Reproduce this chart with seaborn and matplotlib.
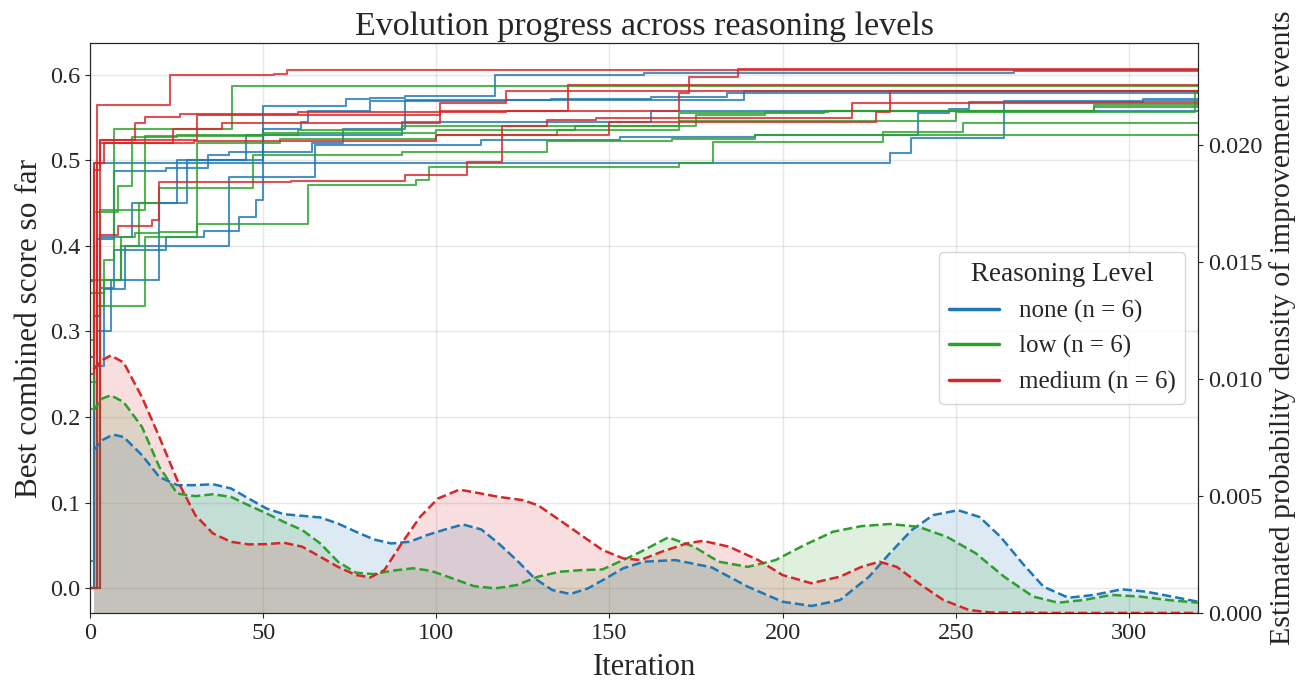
import matplotlib
matplotlib.use("Agg")
import matplotlib.pyplot as plt
from matplotlib.lines import Line2D
import numpy as np
import pandas as pd
import seaborn as sns

LEVELS = ['none', 'low', 'medium']
COLORS = {'none': '#1f77b4', 'low': '#2ca02c', 'medium': '#d62728'}

# best-so-far step runs (iteration of improvement, best score)
NONE_ITERS = [
    [0, 1, 3, 7, 22, 33, 43, 48, 50, 74, 81, 91, 117, 160, 267, 320],
    [0, 2, 7, 22, 34, 40, 64, 73, 91, 133, 162, 184, 320],
    [0, 1, 4, 10, 20, 28, 50, 61, 63, 81, 120, 189, 320],
    [0, 1, 3, 12, 25, 45, 90, 162, 223, 320],
    [0, 2, 6, 20, 40, 65, 113, 153, 192, 239, 248, 254, 304, 320],
    [0, 1, 231, 237, 264, 320],
]
NONE_SCORES = [
    [0.0, 0.318, 0.351, 0.395, 0.41, 0.417, 0.434, 0.453, 0.563, 0.571, 0.573, 0.575, 0.599, 0.602, 0.604, 0.604],
    [0.36, 0.408, 0.487, 0.491, 0.506, 0.51, 0.52, 0.537, 0.570, 0.571, 0.574, 0.578, 0.578],
    [0.032, 0.26, 0.35, 0.40, 0.45, 0.50, 0.536, 0.545, 0.557, 0.569, 0.57, 0.581, 0.581],
    [0.0, 0.318, 0.41, 0.45, 0.50, 0.53, 0.545, 0.557, 0.558, 0.558],
    [0.0, 0.30, 0.36, 0.40, 0.48, 0.518, 0.524, 0.527, 0.53, 0.555, 0.56, 0.568, 0.571, 0.571],
    [0.359, 0.497, 0.508, 0.526, 0.569, 0.569],
]
LOW_ITERS = [
    [0, 2, 4, 7, 41, 320],
    [0, 3, 16, 50, 60, 90, 170, 250, 319, 320],
    [0, 1, 4, 9, 13, 20, 31, 55, 100, 135, 170, 212, 290, 320],
    [0, 3, 16, 31, 63, 94, 98, 170, 180, 229, 320],
    [0, 2, 9, 14, 20, 47, 90, 132, 168, 192, 229, 252, 320],
    [0, 1, 8, 12, 25, 50, 100, 140, 175, 195, 213, 290, 320],
]
LOW_SCORES = [
    [0.241, 0.33, 0.384, 0.536, 0.587, 0.587],
    [0.345, 0.442, 0.528, 0.53, 0.535, 0.54, 0.546, 0.556, 0.580, 0.580],
    [0.209, 0.345, 0.36, 0.41, 0.415, 0.416, 0.52, 0.525, 0.53, 0.535, 0.555, 0.558, 0.562, 0.562],
    [0.0, 0.33, 0.41, 0.425, 0.471, 0.477, 0.492, 0.497, 0.521, 0.529, 0.529],
    [0.0, 0.36, 0.40, 0.45, 0.468, 0.506, 0.51, 0.522, 0.525, 0.53, 0.533, 0.544, 0.544],
    [0.29, 0.44, 0.47, 0.527, 0.53, 0.532, 0.535, 0.54, 0.553, 0.556, 0.558, 0.564, 0.564],
]
MEDIUM_ITERS = [
    [0, 2, 23, 53, 57, 320],
    [0, 3, 13, 16, 26, 60, 120, 170, 173, 187, 320],
    [0, 2, 3, 31, 101, 138, 320],
    [0, 3, 8, 18, 20, 58, 91, 109, 119, 132, 146, 220, 320],
    [0, 1, 3, 24, 38, 101, 120, 320],
    [0, 1, 4, 30, 100, 150, 227, 231, 320],
]
MEDIUM_SCORES = [
    [0.0, 0.565, 0.599, 0.601, 0.606, 0.606],
    [0.0, 0.524, 0.543, 0.55, 0.554, 0.556, 0.557, 0.578, 0.597, 0.607, 0.607],
    [0.0, 0.497, 0.524, 0.553, 0.557, 0.588, 0.588],
    [0.0, 0.413, 0.423, 0.43, 0.474, 0.476, 0.483, 0.498, 0.54, 0.547, 0.549, 0.567, 0.567],
    [0.25, 0.488, 0.52, 0.536, 0.543, 0.567, 0.581, 0.581],
    [0.27, 0.497, 0.52, 0.522, 0.53, 0.545, 0.556, 0.581, 0.581],
]

# density of improvement events (right axis)
NONE_KDE_X = [1, 3.5, 6.6, 9.7, 15, 20, 25.2, 30.4, 35.5, 40.7, 45.8, 51, 56, 61.3, 66.5, 71.6, 76.8, 82, 87,
              92.3, 97.4, 102.6, 107.7, 113, 118, 123.2, 128.4, 133.5, 138.7, 143.8, 149, 154, 160, 169, 179.5,
              190, 200, 208.4, 216.6, 225, 231, 237.3, 243.5, 250.7, 256.9, 263, 269.3, 275.4, 282.6, 289.9,
              298, 305, 312.5, 320]
NONE_KDE_Y = [0.00695, 0.00738, 0.00762, 0.00752, 0.00674, 0.00581, 0.00546, 0.00546, 0.0055, 0.00532, 0.00489,
              0.00446, 0.00422, 0.00415, 0.00408, 0.00382, 0.00347, 0.00314, 0.00297, 0.00304, 0.00333, 0.00357,
              0.00378, 0.00357, 0.00297, 0.00226, 0.00148, 0.00098, 0.00081, 0.00105, 0.00148, 0.00191, 0.00219,
              0.00226, 0.00195, 0.00112, 0.00048, 0.0003, 0.00055, 0.00155, 0.00255, 0.00354, 0.00418, 0.00439,
              0.0041, 0.00325, 0.00212, 0.00112, 0.00065, 0.00077, 0.00101, 0.00091, 0.0007, 0.00048]
LOW_KDE_X = [1, 3.5, 6, 9.7, 15, 20, 25.2, 30.4, 35.5, 40.7, 45.8, 51, 56, 61.3, 66.5, 71.6, 76.8, 82, 87, 93.3,
             98.5, 104.6, 110.8, 117, 123.2, 129.4, 135.6, 141.8, 148, 154, 159, 167, 174.4, 181.6, 190, 198,
             206.3, 214.6, 222.8, 231, 239.3, 247.5, 255.8, 264, 272.4, 279.6, 286.8, 295, 303.3, 311.5, 320]
LOW_KDE_Y = [0.00866, 0.00916, 0.0093, 0.00901, 0.00795, 0.00624, 0.0051, 0.00499, 0.00507, 0.00496, 0.0046,
             0.00425, 0.00389, 0.00354, 0.00297, 0.00219, 0.00172, 0.00166, 0.0018, 0.00191, 0.0018, 0.00148,
             0.00115, 0.00105, 0.00119, 0.00155, 0.00176, 0.00183, 0.00186, 0.00226, 0.00261, 0.00323, 0.00283,
             0.00219, 0.00197, 0.00226, 0.0029, 0.00347, 0.00371, 0.0038, 0.00368, 0.00325, 0.00255, 0.00155,
             0.0007, 0.00044, 0.00055, 0.00077, 0.0007, 0.00055, 0.00044]
MEDIUM_KDE_X = [1, 3.5, 6, 9.7, 15, 20, 25.2, 30.4, 35.5, 40.7, 45.8, 51, 56, 61.3, 66.5, 71.6, 76.8, 81, 85, 90,
                95.3, 100.5, 106.7, 113, 118, 125, 129.4, 135.6, 141.8, 148, 154, 159, 165, 172.3, 177, 184.6,
                193, 200, 208.3, 216.6, 222.8, 228, 233, 239.3, 246.5, 253.8, 260, 280, 300, 320]
MEDIUM_KDE_Y = [0.0104, 0.0108, 0.0110, 0.0107, 0.00922, 0.00752, 0.00567, 0.00418, 0.0034, 0.00304, 0.00293,
                0.00294, 0.0030, 0.00283, 0.0024, 0.00197, 0.00162, 0.00152, 0.00183, 0.00297, 0.0041, 0.00489,
                0.00527, 0.0051, 0.00496, 0.00482, 0.0046, 0.00397, 0.00333, 0.00269, 0.00233, 0.00226, 0.00261,
                0.00297, 0.00308, 0.00283, 0.00226, 0.00162, 0.00127, 0.00155, 0.00197, 0.00219, 0.00197, 0.00127,
                0.00055, 0.00013, 0.00002, 0.0, 0.0, 0.0]


def main():
    sns.set_style('ticks')
    plt.rcParams['font.family'] = ['Liberation Serif', 'DejaVu Serif']

    runs = {'none': (NONE_ITERS, NONE_SCORES),
            'low': (LOW_ITERS, LOW_SCORES),
            'medium': (MEDIUM_ITERS, MEDIUM_SCORES)}
    kdes = {'none': (NONE_KDE_X, NONE_KDE_Y),
            'low': (LOW_KDE_X, LOW_KDE_Y),
            'medium': (MEDIUM_KDE_X, MEDIUM_KDE_Y)}

    rows = []
    for level in LEVELS:
        iters, scores = runs[level]
        for i, (its, scs) in enumerate(zip(iters, scores)):
            for it, sc in zip(its, scs):
                rows.append((level, f'{level}-{i}', it, sc))
    df = pd.DataFrame(rows, columns=['level', 'run', 'iteration', 'score'])

    fig = plt.figure(figsize=(13.05, 6.81), dpi=100)
    ax = fig.add_axes([0.069, 0.0999, 0.849, 0.837])

    sns.lineplot(data=df, x='iteration', y='score', hue='level', units='run', estimator=None,
                 hue_order=LEVELS, palette=COLORS, drawstyle='steps-post', linewidth=1.5,
                 alpha=0.8, legend=False, ax=ax)

    ax.set_xlim(0, 320)
    ax.set_ylim(-0.029, 0.637)
    ax.set_yticks(np.arange(0.0, 0.61, 0.1))
    ax.set_yticklabels([f'{v:.1f}' for v in np.arange(0.0, 0.61, 0.1)])
    ax.grid(True, color='#b0b0b0', alpha=0.3, linewidth=1.0)
    ax.set_xlabel('Iteration', fontsize=22, labelpad=7)
    ax.set_ylabel('Best combined score so far', fontsize=22.5)
    ax.set_title('Evolution progress across reasoning levels', fontsize=24.5, pad=6)
    ax.tick_params(labelsize=17.5)

    ax2 = ax.twinx()
    for level in LEVELS:
        kx, ky = kdes[level]
        sns.lineplot(x=kx, y=ky, color=COLORS[level], linestyle='--', linewidth=1.8, ax=ax2)
        ax2.fill_between(kx, ky, 0, color=COLORS[level], alpha=0.15, linewidth=0)
    ax2.set_ylim(0, 0.02435)
    ax2.set_yticks([0.0, 0.005, 0.01, 0.015, 0.02])
    ax2.set_yticklabels(['0.000', '0.005', '0.010', '0.015', '0.020'])
    ax2.set_ylabel('Estimated probability density of improvement events', fontsize=21.5, labelpad=5)
    ax2.tick_params(labelsize=17.5)
    ax2.grid(False)

    handles = [Line2D([0], [0], color=COLORS[l], lw=2.5) for l in LEVELS]
    labels = [f'{l} (n = {len(runs[l][0])})' for l in LEVELS]
    ax2.legend(handles, labels, title='Reasoning Level', loc='center right',
               fontsize=18, title_fontsize=19.5)

    fig.savefig('out.png', dpi=100)


if __name__ == '__main__':
    main()
